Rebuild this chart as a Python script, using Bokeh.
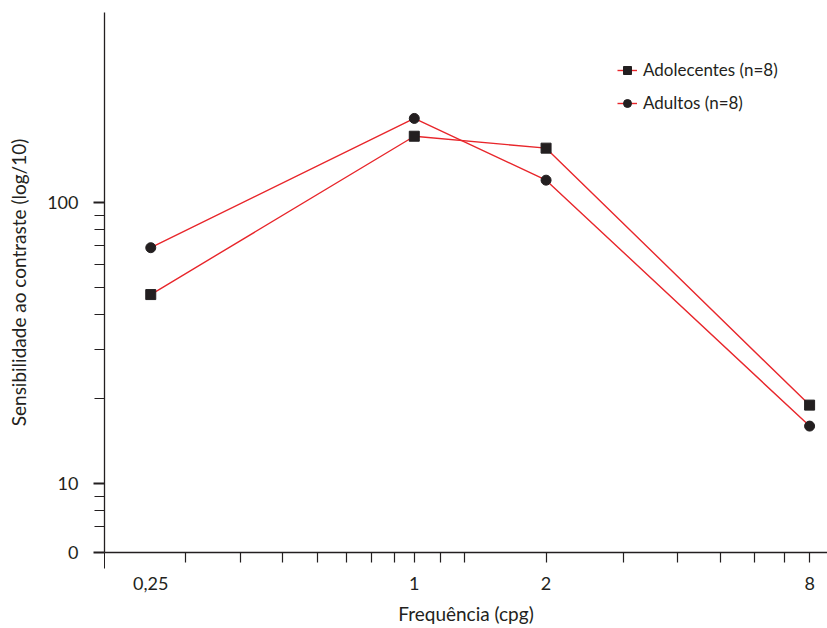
from bokeh.plotting import figure
from bokeh.models import FixedTicker, Legend, LegendItem, Range1d, LogAxis
from bokeh.embed import file_html
from bokeh.resources import INLINE

# ---- data ----
freq = [0.25, 1, 2, 8]
adolescentes = [47, 172, 156, 19]
adultos = [69, 199, 120, 16]

x_major = [0.25, 1, 2, 8]
x_labels = ["0,25", "1", "2", "8"]
x_minor = [0.3, 0.4, 0.5, 0.6, 0.7, 0.8, 0.9, 1, 1.15, 1.3, 2, 3, 4, 5, 6, 7, 8]

y_floor = 5.68          # bottom of the log axis, labelled "0"
y_major = [y_floor, 10, 100]
y_labels = ["0", "10", "100"]
y_minor = [7, 8, 9, 20, 30, 40, 50, 60, 70, 80, 90]

x_start, x_end = 0.196, 8.79
y_start, y_end = y_floor, 474

INK = "#231f20"
RED = "#e8262b"
FONT = "Lato"

p = figure(width=827, height=628, x_axis_type="log", y_axis_type="log",
           x_range=Range1d(x_start, x_end), y_range=Range1d(y_start, y_end),
           toolbar_location=None, output_backend="svg",
           min_border_left=104, min_border_right=0, min_border_top=12, min_border_bottom=76)
p.title = None
p.outline_line_color = None
p.grid.visible = False

r1l = p.line(freq, adolescentes, line_color=RED, line_width=1.4)
r1m = p.scatter(freq, adolescentes, marker="square", size=10, fill_color=INK, line_color=INK)
r2l = p.line(freq, adultos, line_color=RED, line_width=1.4)
r2m = p.scatter(freq, adultos, marker="circle", size=10, fill_color=INK, line_color=INK)

# x axis: line + tick marks (first tick at the frame edge continues the y axis downwards)
xa = p.xaxis[0]
xa.ticker = FixedTicker(ticks=[x_start], minor_ticks=x_minor)
xa.major_label_overrides = {x_start: ""}
xa.major_tick_out = 16
xa.major_tick_in = 0
xa.major_label_text_font_size = "2px"
xa.major_label_standoff = 0

# second x axis: only the labels
xl = LogAxis(ticker=FixedTicker(ticks=x_major),
             major_label_overrides={v: s for v, s in zip(x_major, x_labels)},
             axis_line_color=None, major_tick_line_color=None, minor_tick_line_color=None,
             major_tick_out=0, minor_tick_out=0, major_tick_in=0, minor_tick_in=0)
p.add_layout(xl, "below")
xl.major_label_standoff = 8
xl.axis_label = "Frequência (cpg)"
xl.axis_label_standoff = 9

ya = p.yaxis[0]
ya.ticker = FixedTicker(ticks=y_major, minor_ticks=y_minor)
ya.major_label_overrides = {v: s for v, s in zip(y_major, y_labels)}
ya.major_tick_out = 11
ya.major_tick_in = 0
ya.major_tick_line_width = 2
ya.major_label_standoff = 15
ya.axis_label = "Sensibilidade ao contraste (log/10)"
ya.axis_label_standoff = 14

for ax in (xa, ya, xl):
    ax.axis_line_width = 1.3
    ax.major_label_text_font = FONT
    ax.major_label_text_color = INK
    ax.axis_label_text_font = FONT
    ax.axis_label_text_font_size = "19px"
    ax.axis_label_text_font_style = "normal"
    ax.axis_label_text_color = INK
for ax in (xa, ya):
    ax.axis_line_color = INK
    ax.major_tick_line_color = INK
    ax.minor_tick_line_color = INK
    ax.minor_tick_line_width = 1.2
    ax.minor_tick_in = 0
    ax.minor_tick_out = 10
ya.major_label_text_font_size = "18px"
xl.major_label_text_font_size = "18px"

legend = Legend(items=[
    LegendItem(label="Adolecentes (n=8)", renderers=[r1l, r1m]),
    LegendItem(label="Adultos (n=8)", renderers=[r2l, r2m]),
], location=(513, 439))
legend.padding = 0
legend.margin = 0
legend.border_line_color = None
legend.background_fill_alpha = 0
legend.glyph_width = 20
legend.glyph_height = 20
legend.label_height = 20
legend.spacing = 12
legend.label_standoff = 6
legend.label_text_font = FONT
legend.label_text_font_size = "17px"
legend.label_text_color = INK
p.add_layout(legend, "center")

open("out.html", "w").write(file_html(p, INLINE))
